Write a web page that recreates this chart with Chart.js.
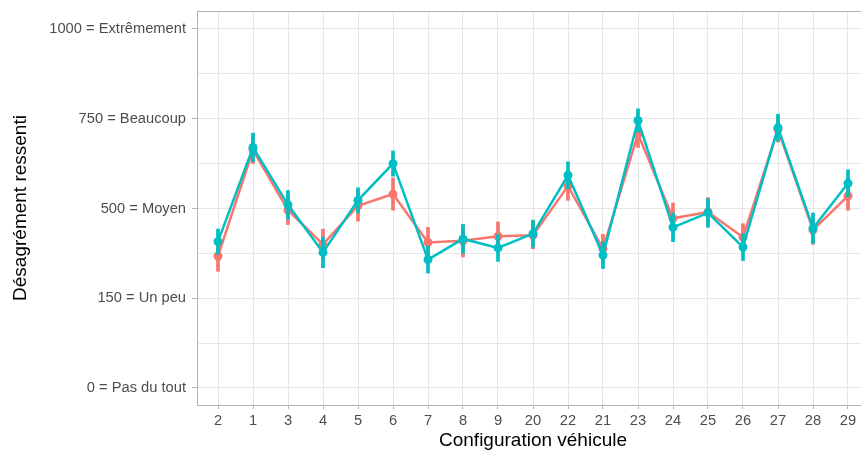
<!DOCTYPE html>
<html>
<head>
<meta charset="utf-8">
<script src="https://cdn.jsdelivr.net/npm/chart.js@4"></script>
<style>
  body { margin: 0; background: #fff; overflow: hidden; width: 861px; height: 453px; }
  .wrap { width: 900px; height: 453px; }
</style>
</head>
<body>
<div class="wrap"><canvas id="chart"></canvas></div>
<script>
// catégories (ordre de l'axe)
const categories = ["2", "1", "3", "4", "5", "6", "7", "8", "9", "20", "22", "21", "23", "24", "25", "26", "27", "28", "29"];
// libellés de l'axe y (positions 0..4)
const yLabels = ["0 = Pas du tout", "150 = Un peu", "500 = Moyen", "750 = Beaucoup", "1000 = Extrêmement"];

// moyennes (échelle 0..4)
const redMean = [1.47, 2.65, 1.98, 1.60, 2.03, 2.16, 1.62, 1.64, 1.69, 1.70, 2.25, 1.55, 2.83, 1.89, 1.96, 1.68, 2.88, 1.76, 2.14];
const tealMean = [1.63, 2.68, 2.04, 1.51, 2.09, 2.50, 1.43, 1.66, 1.56, 1.72, 2.37, 1.48, 2.98, 1.79, 1.95, 1.57, 2.90, 1.78, 2.28];
// demi-largeur des barres d'erreur
const redErr = [0.17, 0.15, 0.16, 0.17, 0.17, 0.18, 0.17, 0.18, 0.16, 0.15, 0.16, 0.16, 0.15, 0.17, 0.16, 0.15, 0.14, 0.16, 0.16];
const tealErr = [0.14, 0.16, 0.16, 0.17, 0.14, 0.14, 0.15, 0.16, 0.15, 0.15, 0.15, 0.15, 0.13, 0.16, 0.16, 0.15, 0.15, 0.17, 0.15];

const RED = "#F8766D";
const TEAL = "#00BFC4";
const FONT = "'Liberation Sans', Arial, sans-serif";

function points(mean) {
  return mean.map(function (v, i) { return { x: i, y: v }; });
}
function ranges(mean, err) {
  return mean.map(function (v, i) { return { x: i, y: [v - err[i], v + err[i]] }; });
}

// bordure du panneau en haut
const panelTop = {
  id: "panelTop",
  afterDraw(chart) {
    const a = chart.chartArea;
    const c = chart.ctx;
    c.save();
    c.strokeStyle = "#b3b3b3";
    c.lineWidth = 1;
    c.beginPath();
    c.moveTo(a.left, a.top + 0.5);
    c.lineTo(a.right, a.top + 0.5);
    c.stroke();
    c.restore();
  },
};

new Chart(document.getElementById("chart"), {
  type: "line",
  data: {
    datasets: [
      {
        type: "bar",
        data: ranges(redMean, redErr),
        backgroundColor: RED,
        borderWidth: 0,
        barThickness: 3,
        grouped: false,
        order: 4,
      },
      {
        type: "line",
        data: points(redMean),
        borderColor: RED,
        backgroundColor: RED,
        borderWidth: 2.5,
        pointRadius: 4.5,
        pointBorderWidth: 0,
        tension: 0,
        order: 3,
      },
      {
        type: "bar",
        data: ranges(tealMean, tealErr),
        backgroundColor: TEAL,
        borderWidth: 0,
        barThickness: 3,
        grouped: false,
        order: 2,
      },
      {
        type: "line",
        data: points(tealMean),
        borderColor: TEAL,
        backgroundColor: TEAL,
        borderWidth: 2.5,
        pointRadius: 4.5,
        pointBorderWidth: 0,
        tension: 0,
        order: 1,
      },
    ],
  },
  options: {
    responsive: true,
    maintainAspectRatio: false,
    animation: false,
    layout: { padding: { top: 11, left: 0, right: 31, bottom: 0 } },
    plugins: { legend: { display: false }, tooltip: { enabled: false } },
    scales: {
      x: {
        type: "linear",
        offset: false,
        min: -0.6,
        max: 18.6,
        afterBuildTicks: function (scale) {
          scale.ticks = categories.map(function (c, i) { return { value: i }; });
        },
        afterFit: function (scale) {
          scale.height = 48;
          scale.paddingLeft = 0;
          scale.paddingRight = 0;
        },
        ticks: {
          autoSkip: false,
          maxRotation: 0,
          padding: 3,
          color: "#4d4d4d",
          font: { family: FONT, size: 14.7 },
          callback: function (v) { return categories[v]; },
        },
        grid: { color: "#e6e6e6", lineWidth: 1, tickLength: 4, tickColor: "#b3b3b3", offset: false },
        border: { display: true, color: "#b3b3b3", width: 1 },
        title: {
          display: true,
          text: "Configuration véhicule",
          color: "#000",
          font: { family: FONT, size: 19 },
          padding: { top: 0, bottom: 1 },
        },
      },
      y: {
        min: -0.19,
        max: 4.2,
        afterBuildTicks: function (scale) {
          const t = [];
          for (let v = 0; v <= 4; v += 0.5) t.push({ value: v });
          scale.ticks = t;
        },
        afterFit: function (scale) {
          scale.width = 197;
          scale.paddingTop = 0;
          scale.paddingBottom = 0;
        },
        ticks: {
          padding: 6,
          color: "#4d4d4d",
          font: { family: FONT, size: 14.7 },
          callback: function (v) { return v % 1 === 0 ? yLabels[v] : ""; },
        },
        grid: {
          color: "#e6e6e6",
          lineWidth: 1,
          tickLength: 5,
          tickColor: function (ctx) { return ctx.tick && ctx.tick.value % 1 === 0 ? "#b3b3b3" : "rgba(0,0,0,0)"; },
        },
        border: { display: true, color: "#b3b3b3", width: 1 },
        title: {
          display: true,
          text: "Désagrément ressenti",
          color: "#000",
          font: { family: FONT, size: 19 },
          padding: { top: 9, bottom: 0 },
        },
      },
    },
  },
  plugins: [panelTop],
});
</script>
</body>
</html>
